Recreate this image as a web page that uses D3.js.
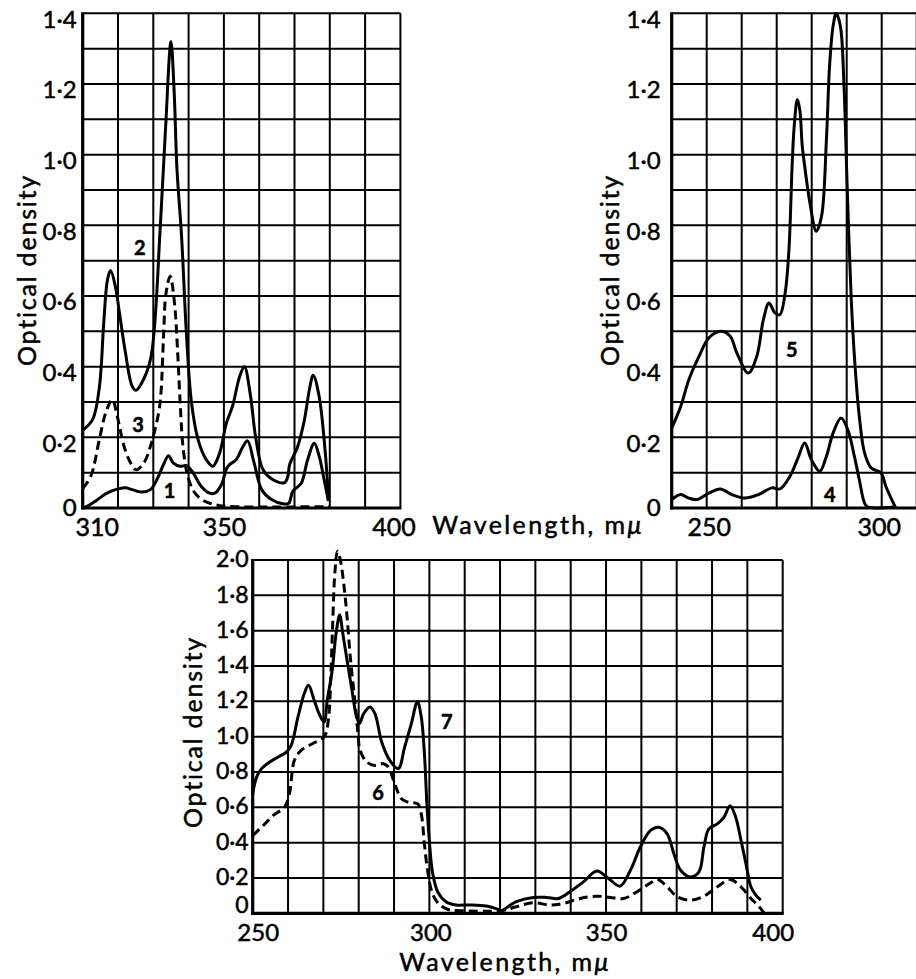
<!DOCTYPE html>
<html>
<head>
<meta charset="utf-8">
<script src="https://cdn.jsdelivr.net/npm/d3@7"></script>
<style>
  html, body { margin: 0; padding: 0; background: #fff; }
  svg { display: block; }
  .tick text, .lbl { font-family: Lato, "Open Sans", sans-serif; fill: #000; stroke: #000; stroke-width: 0.5px; }
</style>
</head>
<body>
<div id="chart"></div>
<script>
// Absorption spectra: [wavelength (mμ), optical density]
const curve1 = [[310, 0.0], [311.5, 0.006], [313.7, 0.02], [316.5, 0.04], [319.3, 0.052], [322.1, 0.057], [324, 0.052],
  [326.8, 0.045], [329.2, 0.052], [331, 0.08], [332.9, 0.123], [334.3, 0.148], [335.7, 0.127], [337.6, 0.118],
  [339.4, 0.12], [341.3, 0.099], [343.6, 0.061], [346, 0.042], [347.4, 0.042], [349.3, 0.066], [351.1, 0.118],
  [353.5, 0.137], [355.3, 0.172], [356.7, 0.19], [358.5, 0.13], [360.7, 0.052], [363.5, 0.024], [366.7, 0.012],
  [368.4, 0.014], [369.5, 0.047], [371.9, 0.07], [373.7, 0.136], [375.6, 0.183], [377, 0.146], [378.4, 0.08], [379.6, 0.02]];
const curve2 = [[310, 0.22], [312.8, 0.25], [314.7, 0.34], [316, 0.53], [317, 0.645], [317.9, 0.672], [319.3, 0.625],
  [320.3, 0.56], [322.1, 0.44], [324, 0.345], [325.1, 0.333], [327.3, 0.365], [329.4, 0.43], [332, 0.80], [333.5, 1.08],
  [335, 1.32], [335.9, 1.18], [336.7, 0.96], [338, 0.77], [339.4, 0.49], [340.8, 0.30], [342.7, 0.193], [345, 0.137],
  [346.9, 0.118], [348.8, 0.156], [350.7, 0.24], [352.5, 0.29], [354.4, 0.37], [355.8, 0.40], [357.5, 0.32],
  [359, 0.2], [361.1, 0.108], [363.9, 0.08], [367.2, 0.072], [368.1, 0.089], [368.6, 0.122], [370.9, 0.174],
  [372.8, 0.249], [374.2, 0.334], [375.3, 0.376], [377, 0.315], [378.4, 0.193], [379.3, 0.08], [379.6, 0.02]];
const curve3 = [[310, 0.055], [312.3, 0.09], [314.7, 0.193], [316.5, 0.269], [318.4, 0.307], [319.8, 0.259],
  [321.7, 0.175], [323.6, 0.127], [325.1, 0.108], [327.3, 0.127], [329.2, 0.175], [331.5, 0.269], [332.2, 0.33],
  [332.9, 0.486], [333.6, 0.608], [334.8, 0.656], [336, 0.58], [336.9, 0.44], [337.6, 0.30], [338.5, 0.165],
  [339.9, 0.085], [341.8, 0.042], [344.6, 0.019], [348.3, 0.008], [352, 0.004], [380, 0.004]];
const curve4 = [[240, 0.024], [242.6, 0.038], [244.9, 0.028], [247.3, 0.024], [250.6, 0.042], [253.9, 0.054],
  [257.2, 0.038], [261, 0.028], [264.8, 0.038], [268.6, 0.057], [270.9, 0.054], [273.8, 0.09], [276.1, 0.142],
  [278, 0.184], [279.9, 0.137], [282.3, 0.104], [284.2, 0.146], [286.1, 0.212], [288.4, 0.255], [290.3, 0.222],
  [292.2, 0.146], [293.6, 0.08], [295.1, 0.014], [296, 0.003], [303.5, 0.003]];
const curve5 = [[240, 0.226], [242.6, 0.288], [244.9, 0.363], [247.8, 0.429], [250.6, 0.481], [253.9, 0.5],
  [256.7, 0.486], [258.6, 0.439], [261.9, 0.382], [264.3, 0.429], [266.2, 0.533], [267.8, 0.58], [269.5, 0.552],
  [270.9, 0.547], [272.4, 0.608], [273.5, 0.731], [274.4, 0.967], [275, 1.08], [275.9, 1.156], [276.6, 1.127],
  [277.3, 1.024], [278, 0.967], [279.5, 0.863], [281.3, 0.783], [282.8, 0.825], [284.2, 1.042], [285.1, 1.25],
  [286.1, 1.363], [287, 1.40], [288.2, 1.363], [289.2, 1.203], [290.1, 0.92], [291.3, 0.59], [292.4, 0.4],
  [293.6, 0.259], [295.1, 0.156], [297, 0.113], [299.8, 0.099], [301.2, 0.061], [304, 0.0]];
const curve6 = [[250, 0.44], [253, 0.497], [255.8, 0.554], [259, 0.601], [260.4, 0.677], [261.8, 0.866],
  [263.7, 0.922], [266.9, 0.96], [270.2, 0.998], [271.4, 1.093], [272.1, 1.338], [272.6, 1.62], [273.3, 1.94],
  [274, 2.05], [274.8, 2.0], [275.8, 1.86], [276.7, 1.679], [277.7, 1.433], [278.9, 1.206], [279.8, 1.017],
  [280.4, 0.922], [282.3, 0.856], [284.6, 0.837], [287, 0.847], [288.4, 0.828], [290.2, 0.733], [292.1, 0.648],
  [294, 0.629], [296.7, 0.62], [297.7, 0.563], [298.6, 0.393], [299.5, 0.242], [300.9, 0.11], [302.8, 0.05],
  [305.7, 0.019], [308.5, 0.015], [320.4, 0.015], [324.6, 0.037], [329.4, 0.06], [334.1, 0.047], [337.9, 0.056],
  [342.7, 0.084], [347.4, 0.097], [351.2, 0.09], [355, 0.084], [358.8, 0.122], [362.6, 0.172], [364.6, 0.191],
  [367.3, 0.15], [370.1, 0.094], [373.9, 0.075], [377.7, 0.097], [381.5, 0.15], [385.1, 0.191], [388.2, 0.15],
  [391, 0.084], [392.9, 0.047], [394.8, 0.0]];
const curve7 = [[250, 0.677], [251.1, 0.771], [252.5, 0.819], [254.8, 0.856], [257.2, 0.885], [259.5, 0.913],
  [260.9, 0.951], [262.8, 1.11], [264.6, 1.244], [265.8, 1.291], [267.4, 1.206], [268.8, 1.13], [270.2, 1.083],
  [271.1, 1.206], [272.5, 1.376], [273.6, 1.584], [274.6, 1.688], [275.5, 1.584], [276.7, 1.433], [278.1, 1.263],
  [279.2, 1.13], [280.2, 1.074], [281.4, 1.13], [283.2, 1.168], [284.6, 1.13], [286.5, 0.97], [288.8, 0.866],
  [291.2, 0.819], [293, 0.941], [294.9, 1.074], [296.6, 1.197], [297.7, 1.112], [298.6, 0.904], [299.3, 0.62],
  [300, 0.41], [300.9, 0.23], [302.4, 0.12], [304.7, 0.066], [307.6, 0.047], [311.4, 0.047], [316.1, 0.041],
  [319.9, 0.019], [320.4, 0.015], [324.6, 0.066], [329.4, 0.09], [333.2, 0.09], [336.5, 0.084], [339.8, 0.122],
  [343.6, 0.178], [347.4, 0.24], [350.7, 0.197], [354, 0.154], [356.9, 0.244], [359.7, 0.375], [362.6, 0.469],
  [364.9, 0.487], [367.3, 0.45], [369.2, 0.337], [371.1, 0.244], [373.9, 0.206], [376.3, 0.234], [377.7, 0.375],
  [379.1, 0.478], [381.5, 0.506], [383.4, 0.544], [385.1, 0.609], [386.7, 0.544], [388.2, 0.412], [389.6, 0.281],
  [391, 0.15], [392.4, 0.103], [393.8, 0.075]];

// curve number labels, placed in data units
const labelsTL = [["2", 326.2, 0.735], ["3", 325.7, 0.235], ["1", 334.6, 0.047]];
const labelsTR = [["5", 274.3, 0.447], ["4", 285.2, 0.037]];
const labelsB = [["7", 304.9, 1.084], ["6", 285.5, 0.679]];

const ticksTLx = [310, 350, 400];
const ticksTRx = [250, 300];
const ticksBx = [250, 300, 350, 400];
const ticksTopY = [0, 0.2, 0.4, 0.6, 0.8, 1.0, 1.2, 1.4];
const ticksBY = [0, 0.2, 0.4, 0.6, 0.8, 1.0, 1.2, 1.4, 1.6, 1.8, 2.0];

const W = 916, H = 979;
const fmtOD = d => d === 0 ? '0' : d3.format('.1f')(d).replace('.', '\u00B7');

const svg = d3.select('#chart').append('svg')
  .attr('width', W).attr('height', H)
  .attr('viewBox', [0, 0, W, H]);
svg.append('rect').attr('width', W).attr('height', H).attr('fill', '#fff');

function drawPanel(p) {
  const x = d3.scaleLinear().domain(p.xDomain).range(p.xRange);
  const y = d3.scaleLinear().domain(p.yDomain).range(p.yRange);
  const g = svg.append('g');

  // grid
  const gx = d3.range(p.xDomain[0], p.xDomain[1] + 0.01, 10);
  const gy = d3.range(0, p.yDomain[1] + 1e-6, p.yStep);
  g.append('g').attr('stroke', '#000').attr('stroke-width', 2)
    .selectAll('line.v').data(gx).join('line')
    .attr('x1', d => x(d)).attr('x2', d => x(d))
    .attr('y1', y(p.yDomain[1])).attr('y2', y(0));
  g.append('g').attr('stroke', '#000').attr('stroke-width', 2)
    .selectAll('line.h').data(gy).join('line')
    .attr('x1', x(p.xDomain[0])).attr('x2', x(p.xDomain[1]))
    .attr('y1', d => y(d)).attr('y2', d => y(d));

  // heavier left and bottom axes
  g.append('line').attr('stroke', '#000').attr('stroke-width', 3.2)
    .attr('x1', x(p.xDomain[0])).attr('x2', x(p.xDomain[0]))
    .attr('y1', y(p.yDomain[1]) - 1).attr('y2', y(0) + 1.5);
  g.append('line').attr('stroke', '#000').attr('stroke-width', 3.2)
    .attr('x1', x(p.xDomain[0]) - 1.5).attr('x2', x(p.xDomain[1]) + 1)
    .attr('y1', y(0)).attr('y2', y(0));

  // axes (labels only)
  const ay = g.append('g').attr('transform', `translate(${x(p.xDomain[0])},0)`)
    .call(d3.axisLeft(y).tickValues(p.yTicks).tickSize(0).tickPadding(p.yPad).tickFormat(fmtOD));
  ay.select('.domain').remove();
  ay.selectAll('text').attr('font-size', p.yFont).attr('dy', d => d === 0 ? p.zeroDy : p.yDy);

  const ax = g.append('g').attr('transform', `translate(0,${y(0)})`)
    .call(d3.axisBottom(x).tickValues(p.xTicks).tickSize(0).tickPadding(p.xPad).tickFormat(d3.format('d')));
  ax.select('.domain').remove();
  ax.selectAll('text').attr('font-size', p.xFont).attr('dx', (d, i) => p.xShift[i] || 0);

  // y title
  g.append('text').attr('class', 'lbl')
    .attr('transform', `translate(${p.yTitle[0]},${p.yTitle[1]}) rotate(-90)`)
    .attr('text-anchor', 'middle').attr('dy', '0.35em')
    .attr('font-size', 25).attr('letter-spacing', 1.8)
    .text('Optical density');

  // curves
  const line = d3.line().x(d => x(d[0])).y(d => y(d[1])).curve(d3.curveCatmullRom.alpha(0.5));
  p.series.forEach(s => {
    g.append('path').datum(s.data)
      .attr('fill', 'none').attr('stroke', '#000').attr('stroke-width', 3)
      .attr('stroke-linejoin', 'round')
      .attr('stroke-dasharray', s.dashed ? '9,5' : null)
      .attr('d', line);
  });

  g.selectAll('text.num').data(p.labels).join('text')
    .attr('class', 'lbl num')
    .attr('x', d => x(d[1])).attr('y', d => y(d[2]))
    .attr('text-anchor', 'middle').attr('dy', '0.35em')
    .attr('font-size', 20).attr('font-weight', 'bold')
    .text(d => d[0]);
  return { x, y };
}

drawPanel({
  xDomain: [310, 400], xRange: [82.7, 400.4],
  yDomain: [0, 1.4], yRange: [508, 13.3], yStep: 0.1,
  xTicks: ticksTLx, yTicks: ticksTopY, yFont: 24, xFont: 25, yPad: 6, yDy: '0.58em', zeroDy: '0.3em',
  xPad: 10, xShift: [14, 0, -7],
  yTitle: [27, 270],
  series: [{ data: curve1 }, { data: curve2 }, { data: curve3, dashed: true }],
  labels: labelsTL
});

drawPanel({
  xDomain: [240, 310], xRange: [671.7, 916.7],
  yDomain: [0, 1.4], yRange: [508, 13.3], yStep: 0.1,
  xTicks: ticksTRx, yTicks: ticksTopY, yFont: 24, xFont: 25, yPad: 11, yDy: '0.58em', zeroDy: '0.3em',
  xPad: 10, xShift: [2, -3],
  yTitle: [610, 270],
  series: [{ data: curve4 }, { data: curve5 }],
  labels: labelsTR
});

drawPanel({
  xDomain: [250, 400], xRange: [252.7, 782.7],
  yDomain: [0, 2.0], yRange: [913.3, 560], yStep: 0.2,
  xTicks: ticksBx, yTicks: ticksBY, yFont: 23, xFont: 24, yPad: 4, yDy: '0.29em', zeroDy: '-0.04em',
  xPad: 11, xShift: [5, 1, 0, -10],
  yTitle: [193, 732],
  series: [{ data: curve6, dashed: true }, { data: curve7 }],
  labels: labelsB
});

// shared x titles
function wavelengthTitle(cx, cy) {
  const t = svg.append('text').attr('class', 'lbl')
    .attr('x', cx).attr('y', cy).attr('text-anchor', 'middle')
    .attr('font-size', 25).attr('letter-spacing', 2.4);
  t.append('tspan').text('Wavelength, m');
  t.append('tspan').attr('font-style', 'italic').text('\u03BC');
}
wavelengthTitle(538, 534);
wavelengthTitle(505, 971);
</script>
</body>
</html>
